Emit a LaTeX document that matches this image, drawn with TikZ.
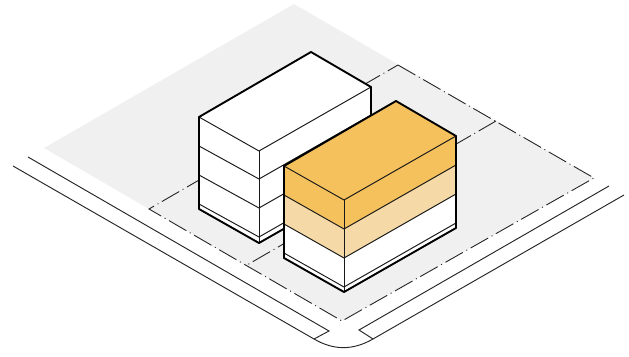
\documentclass[tikz,border=0pt]{standalone}
\tikzset{
  thinline/.style={line width=0.95pt,draw=black!90,line cap=round,line join=round},
  thickline/.style={line width=1.9pt,draw=black,line cap=round,line join=round},
  lotline/.style={line width=0.9pt,draw=black!85,dash pattern=on 20pt off 4pt on 1pt off 4pt},
  roadline/.style={line width=0.95pt,draw=black!85},
}
\definecolor{lotgray}{HTML}{F0F0F0}
\definecolor{amber}{HTML}{F5C15C}
\definecolor{paleamber}{HTML}{F5D9A6}
\begin{document}
\begin{tikzpicture}[x=1pt,y=-1pt]
\useasboundingbox (0,0) rectangle (629,356);
% ground
\fill[lotgray] (294,4) -- (44,148) -- (342,321) -- (594,178) -- cycle;
% lot boundary
\draw[lotline] (398,65) -- (594,178) -- (342,321) -- (149,209) -- cycle;
\draw[lotline] (496,121) -- (247,265);
% road
\draw[roadline] (28,157) -- (329,331) -- (314,339);
\draw[roadline] (13,166) -- (314,339) .. controls (333,350) and (352,351) .. (373,339) -- (624,195);
\draw[roadline] (609,186) -- (359,330) -- (373,339);
% left building
\fill[white] (199,117) -- (311,52) -- (371,87) -- (371,180) -- (259,243) -- (199,209) -- cycle;
\draw[thinline] (199,117) -- (259,151) -- (371,87);
\draw[thinline] (259,151) -- (259,243);
\draw[thinline] (199,146) -- (259,179) -- (371,115);
\draw[thinline] (199,175) -- (259,208) -- (371,144);
\draw[thinline] (199,204) -- (259,237) -- (371,173);
\draw[thickline] (371,87) -- (311,52) -- (199,117) -- (199,209) -- (259,243) -- (371,179) -- cycle;
% right building
\fill[white] (284,253) -- (344,287) -- (456,223) -- (456,228) -- (344,292) -- (284,258) -- cycle;
\fill[white] (284,224) -- (344,258) -- (456,194) -- (456,223) -- (344,287) -- (284,253) -- cycle;
\fill[paleamber] (284,195) -- (344,229) -- (456,165) -- (456,194) -- (344,258) -- (284,224) -- cycle;
\fill[amber] (284,166) -- (396,101) -- (456,136) -- (456,165) -- (344,229) -- (284,195) -- cycle;
\draw[thinline] (284,166) -- (344,200) -- (456,136);
\draw[thinline] (344,200) -- (344,292);
\draw[thinline] (284,195) -- (344,229) -- (456,165);
\draw[thinline] (284,224) -- (344,258) -- (456,194);
\draw[thinline] (284,253) -- (344,287) -- (456,223);
\draw[thickline] (284,166) -- (396,101) -- (456,136) -- (456,228) -- (344,292) -- (284,258) -- cycle;
\end{tikzpicture}
\end{document}
